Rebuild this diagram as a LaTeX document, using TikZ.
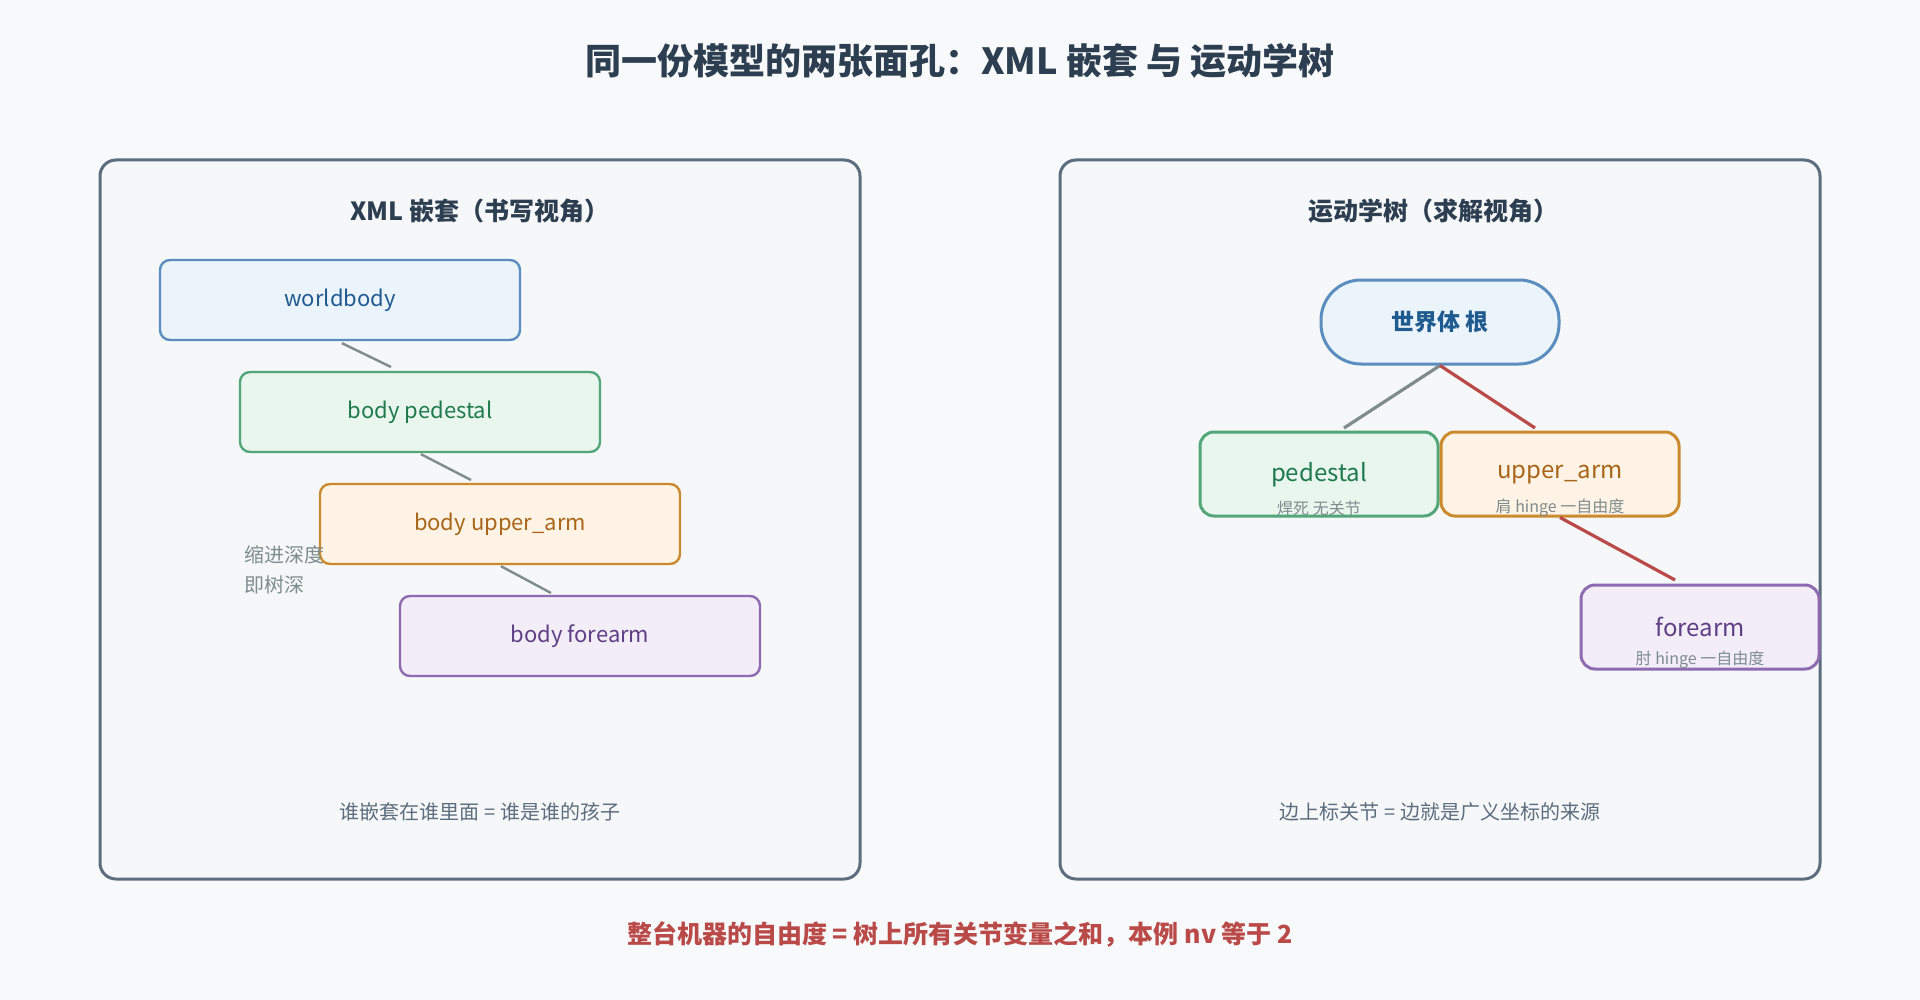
\documentclass[tikz,border=0pt]{standalone}
\usepackage{fontspec}
\setmainfont{Noto Sans CJK SC}
\begin{document}
\definecolor{bg}{HTML}{F7F9FB}\definecolor{pf}{HTML}{F5F7F9}\definecolor{pb}{HTML}{5D6D7E}
\definecolor{bB}{HTML}{5B8DBE}\definecolor{bF}{HTML}{EBF3FB}\definecolor{bT}{HTML}{1F5B8F}
\definecolor{gB}{HTML}{52A67A}\definecolor{gF}{HTML}{E9F6EE}\definecolor{gT}{HTML}{1E7A4E}
\definecolor{oB}{HTML}{CC8A2E}\definecolor{oF}{HTML}{FEF3E4}\definecolor{oT}{HTML}{A8661A}
\definecolor{uB}{HTML}{8E6BB0}\definecolor{uF}{HTML}{F3EDF8}\definecolor{uT}{HTML}{5E3F86}
\definecolor{rd}{HTML}{B94A48}\definecolor{gl}{HTML}{808B8C}\definecolor{tt}{HTML}{2C3E50}\definecolor{gt}{HTML}{7F8C8D}
\begin{tikzpicture}[x=0.5pt,y=-0.5pt,
 panel/.style={draw=pb,fill=pf,line width=1.5pt,rounded corners=8pt},
 box/.style={rounded corners=5pt,line width=1.2pt,minimum width=180pt,minimum height=40pt,font=\fontsize{11}{13}\selectfont},
 tbox/.style={rounded corners=7pt,line width=1.5pt,minimum width=119pt,minimum height=42pt,inner sep=0pt},
 sub/.style={font=\fontsize{8}{9}\selectfont,text=gt},
 captxt/.style={font=\fontsize{10}{12}\selectfont,text=pb},
 gline/.style={draw=gl,line width=1.2pt},
 rline/.style={draw=rd,line width=1.6pt}]
\fill[bg] (0,0) rectangle (1920,1000);
\node[font=\fontsize{18}{20}\selectfont\bfseries,text=tt] (title) at (960,61) {同一份模型的两张面孔：XML 嵌套 与 运动学树};
\draw[panel] (100,160) rectangle (860,879);
\draw[panel] (1060,160) rectangle (1820,879);
\node[font=\fontsize{12.5}{14}\selectfont\bfseries,text=tt] (lt) at (480,211) {XML 嵌套（书写视角）};
\node[font=\fontsize{12.5}{14}\selectfont\bfseries,text=tt] (rt) at (1433,211) {运动学树（求解视角）};
% left
\node[box,draw=bB,fill=bF,text=bT] (w) at (340,300) {worldbody};
\node[box,draw=gB,fill=gF,text=gT] (p) at (420,412) {body pedestal};
\node[box,draw=oB,fill=oF,text=oT] (u) at (500,524) {body upper\_arm};
\node[box,draw=uB,fill=uF,text=uT] (f) at (580,636) {body forearm};
\coordinate (c1) at (391,367);\coordinate (c2) at (471,480);\coordinate (c3) at (551,593);
\draw[gline] (w.south)++(2,2) -- (c1);
\draw[gline] (p.south)++(1,1) -- (c2);
\draw[gline] (u.south)++(1,1) -- (c3);
\node[sub,font=\fontsize{10}{15}\selectfont,align=left,anchor=west] (n) at (237,570) {缩进深度\\即树深};
\node[captxt] (lc) at (480,812) {谁嵌套在谁里面 = 谁是谁的孩子};
% right
\node[tbox,draw=bB,fill=bF,text=bT,rounded corners=20pt,font=\fontsize{11.5}{13}\selectfont\bfseries] (r) at (1440,322) {世界体 根};
\node[tbox,draw=gB,fill=gF] (rp) at (1319,474) {};
\node[tbox,draw=oB,fill=oF] (ru) at (1560,474) {};
\node[tbox,draw=uB,fill=uF] (rf) at (1700,627) {};
\node[font=\fontsize{12}{13}\selectfont,text=gT] (rpl) at (1319,475) {pedestal};
\node[sub] (rps) at (1319,508) {焊死 无关节};
\node[font=\fontsize{12}{13}\selectfont,text=oT] (rul) at (1560,475) {upper\_arm};
\node[sub] (rus) at (1560,508) {肩 hinge 一自由度};
\node[font=\fontsize{12}{13}\selectfont,text=uT] (rfl) at (1700,627) {forearm};
\node[sub] (rfs) at (1700,660) {肘 hinge 一自由度};
\coordinate (a1) at (1344,428);\coordinate (a2) at (1535,428);\coordinate (a3) at (1675,580);
\draw[gline,line width=1.6pt] (r.south) -- (a1);
\draw[rline] (r.south) -- (a2);
\draw[rline] (ru.south) -- (a3);
\node[captxt] (rc) at (1440,812) {边上标关节 = 边就是广义坐标的来源};
\node[font=\fontsize{12.5}{14}\selectfont\bfseries,text=rd] (bt) at (960,934) {整台机器的自由度 = 树上所有关节变量之和，本例 nv 等于 2};
\end{tikzpicture}
\end{document}
